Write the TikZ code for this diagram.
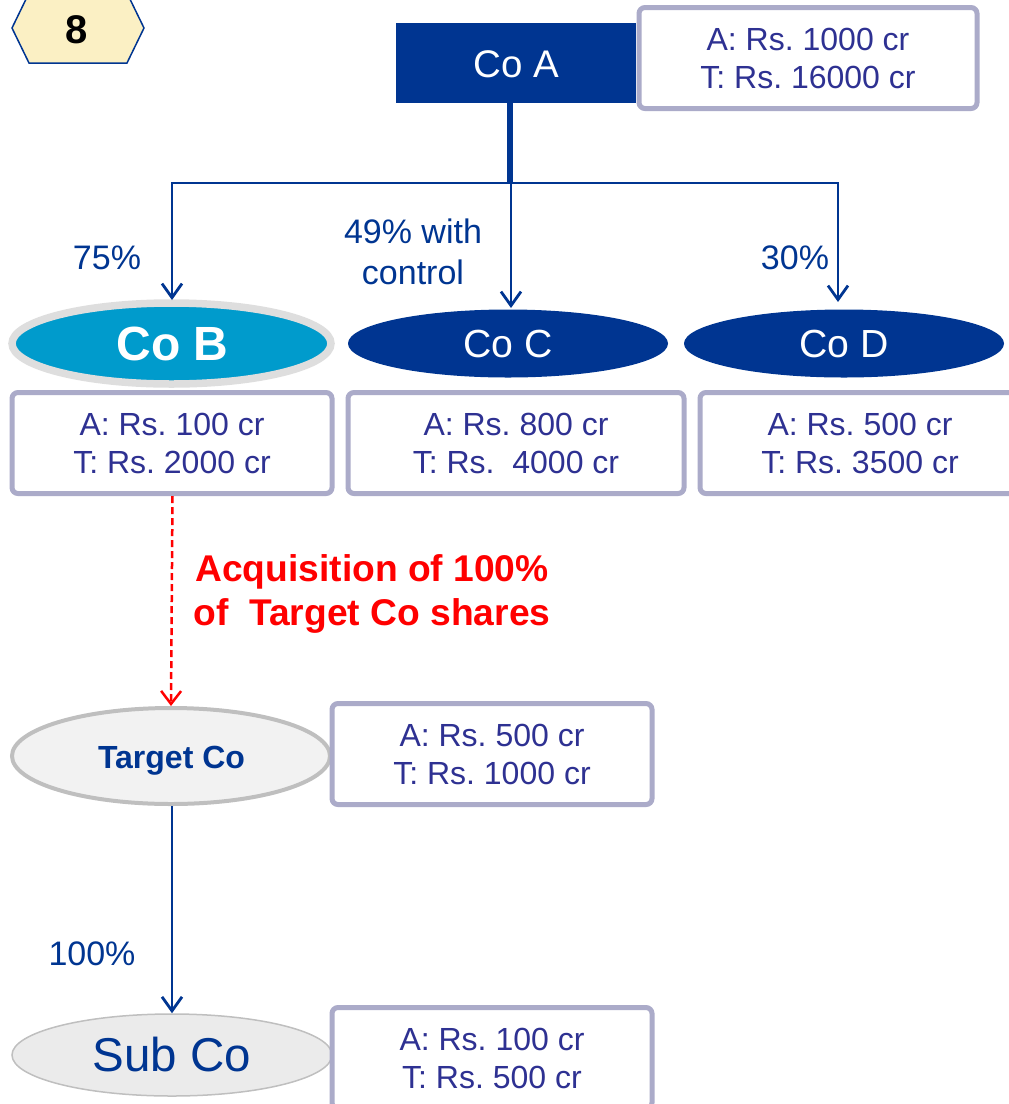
\documentclass[tikz,border=0pt]{standalone}
\usepackage{fontspec}
\setmainfont{Liberation Sans}
\usetikzlibrary{shapes.geometric,arrows.meta}
\definecolor{navy}{HTML}{003591}
\definecolor{boxb}{HTML}{ABABC9}
\definecolor{txtb}{HTML}{2E3192}
\definecolor{teal}{HTML}{009BCC}
\definecolor{hexf}{HTML}{FBF0C4}
\tikzset{x=1pt,y=-1pt,
 infobox/.style={draw=boxb,line width=5pt,rounded corners=6pt,fill=white,align=center,text=txtb,font=\fontsize{32}{38}\selectfont\frenchspacing,inner sep=0pt},
 ell/.style={ellipse,inner sep=0pt},
 link/.style={draw=navy,line width=2.8pt,-{Straight Barb[length=14pt,width=20pt,line width=2.8pt]}},
 lab/.style={text=navy,font=\fontsize{34}{41}\selectfont,align=center,inner sep=0pt},
}
\newcommand{\ibox}[6]{\node[infobox,minimum width=#4pt,minimum height=#5pt] (#1) at (#2,#3) {#6};}
\begin{document}
\begin{tikzpicture}
\useasboundingbox (0,0) rectangle (1009,1104);
% hexagon
\clip (0,0) rectangle (1009,1104);
\draw[draw=navy,fill=hexf,line width=1.5pt] (12,28) -- (29,-7) -- (127,-7) -- (144,28) -- (127,63) -- (29,63) -- cycle;
\node[font=\fontsize{40}{44}\selectfont\bfseries,text=black,inner sep=0pt] (hexlab) at (77,30) {8};
% Co A
\node[fill=navy,text=white,minimum width=240pt,minimum height=80pt,inner sep=0pt,font=\fontsize{38.5}{44}\selectfont] (coa) at (516,63) {\rule{0pt}{30pt}Co A};
\ibox{boxa}{808}{58}{338}{101}{A: Rs. 1000 cr\\T: Rs. 16000 cr}
% ellipses
\node[ell,fill=teal,draw=black!13,line width=7.5pt,minimum width=319pt,minimum height=81pt,text=white,font=\fontsize{48}{52}\selectfont\bfseries] (cob) at (171.5,343.5) {\hspace{2pt}Co B};
\node[ell,fill=navy,minimum width=320pt,minimum height=68pt,text=white,font=\fontsize{39.2}{44}\selectfont] (coc) at (508,343.5) {Co C};
\node[ell,fill=navy,minimum width=320pt,minimum height=68pt,text=white,font=\fontsize{39.2}{44}\selectfont] (cod) at (844,343.5) {Co D};
\ibox{boxb}{172}{443}{320}{101}{A: Rs. 100 cr\\T: Rs. 2000 cr}
\ibox{boxc}{516}{443}{336}{101}{A: Rs. 800 cr\\T: Rs.\ \ 4000 cr}
\ibox{boxd}{860}{443}{320}{101}{A: Rs. 500 cr\\T: Rs. 3500 cr}
% connectors
\coordinate (junc) at (510,183);
\coordinate (juncb) at (172,183);
\coordinate (juncc) at (511,183);
\coordinate (juncd) at (838,183);
\coordinate (tipb) at (172,300);
\coordinate (tipc) at (511,308);
\coordinate (tipd) at (838,302);
\draw[draw=navy,line width=6pt] (coa.south -| junc) -- (junc);
\draw[link] (junc) -- (juncb) -- (tipb);
\draw[link] (juncc) -- (tipc);
\draw[link] (junc) -- (juncd) -- (tipd);
\node[lab] (l75) at (107,258) {75\%};
\node[lab] (l49) at (413,252) {49\% with\\control};
\node[lab] (l30) at (795,258) {30\%};
% acquisition
\node[ell,fill=black!5,draw=black!25,line width=4pt,minimum width=318pt,minimum height=96pt,text=navy,font=\fontsize{32}{36}\selectfont\bfseries] (target) at (171,756) {\rule{0pt}{32pt}\hspace{1pt}Target Co};
\ibox{boxt}{492}{754}{320}{101}{A: Rs. 500 cr\\T: Rs. 1000 cr}
\coordinate (acqstart) at (172.5,496);
\draw[draw=red,line width=2.5pt,dash pattern=on 7pt off 4pt,-{Straight Barb[length=13pt,width=20pt,line width=2.5pt]}] (acqstart) -- (target.north);
\node[text=red,font=\fontsize{37.2}{44}\selectfont\bfseries\frenchspacing,align=center,inner sep=0pt] (acq) at (372,594) {Acquisition of 100\%\\of\ \ Target Co shares};
% sub
\node[ell,fill=black!8,draw=black!25,line width=1.5pt,minimum width=320pt,minimum height=82pt,text=navy,font=\fontsize{47.5}{52}\selectfont] (sub) at (172,1055) {Sub Co};
\ibox{boxs}{492}{1058}{320}{101}{A: Rs. 100 cr\\T: Rs. 500 cr}
\draw[link] (target.south -| sub.north) -- (sub.north);
\node[lab] (l100) at (92,954) {100\%};
\end{tikzpicture}
\end{document}
